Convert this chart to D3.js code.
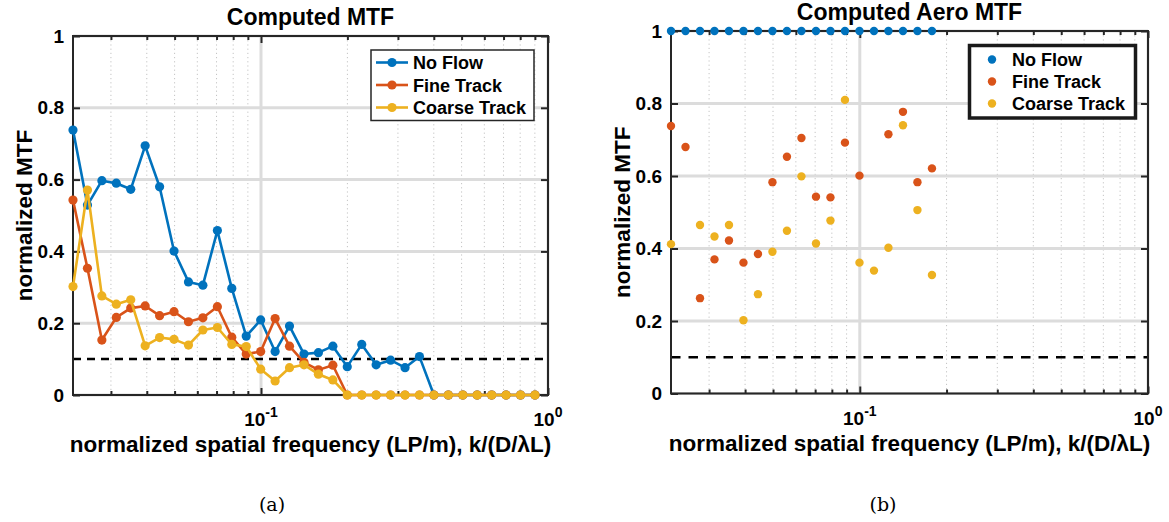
<!DOCTYPE html>
<html><head><meta charset="utf-8">
<script src="https://cdn.jsdelivr.net/npm/d3@7"></script>
<style>
html,body{margin:0;padding:0;background:#fff;}
svg text{font-family:"Liberation Sans",Arial,sans-serif;font-weight:bold;fill:#000;}
</style></head>
<body>
<svg id="fig" width="1169" height="522"></svg>
<script>
// ---- data ----
const freq = [0.02213,0.02485,0.02790,0.03132,0.03517,0.03948,0.04433,0.04977,0.05588,0.06274,
  0.07047,0.07911,0.08883,0.09975,0.1120,0.1257,0.1412,0.1585,0.1780,0.1998,
  0.2244,0.2519,0.2829,0.3176,0.3566,0.4004,0.4496,0.5048,0.5667,0.6363,
  0.7145,0.8022,0.9008];
const seriesNames = ["No Flow","Fine Track","Coarse Track"];
const seriesColors = ["#0072BD","#D95319","#EDB120"];
// panel (a): computed MTF
const mtfNoFlow = [0.738,0.529,0.597,0.590,0.573,0.694,0.580,0.401,0.315,0.306,
  0.458,0.297,0.164,0.209,0.121,0.192,0.114,0.118,0.136,0.079,
  0.141,0.084,0.097,0.076,0.107,0,0,0,0,0,0,0,0];
const mtfFine = [0.543,0.353,0.153,0.216,0.242,0.248,0.221,0.232,0.204,0.215,
  0.246,0.161,0.114,0.121,0.213,0.136,0.091,0.070,0.083,0,
  0,0,0,0,0,0,0,0,0,0,0,0,0];
const mtfCoarse = [0.302,0.571,0.276,0.253,0.265,0.137,0.160,0.155,0.139,0.181,
  0.188,0.141,0.135,0.072,0.039,0.076,0.084,0.058,0.042,0,
  0,0,0,0,0,0,0,0,0,0,0,0,0];
// panel (b): computed aero MTF (first 19 frequencies)
const aeroNoFlow = [1,1,1,1,1,1,1,1,1,1,1,1,1,1,1,1,1,1,1];
const aeroFine = [0.738,0.680,0.263,0.370,0.422,0.361,0.385,0.583,0.653,0.705,
  0.543,0.541,0.692,0.601,null,0.715,0.777,0.583,0.621];
const aeroCoarse = [0.412,null,0.465,0.433,0.465,0.202,0.274,0.391,0.449,0.599,
  0.414,0.477,0.810,0.361,0.339,0.402,0.740,0.506,0.327];
const yTicks = [0,0.2,0.4,0.6,0.8,1];
const yTickLabels = ["0","0.2","0.4","0.6","0.8","1"];
const xMajor = [0.1,1];
const xMajorExp = ["-1","0"];
const xMinor = [0.03,0.04,0.05,0.06,0.07,0.08,0.09,0.2,0.3,0.4,0.5,0.6,0.7,0.8,0.9];
const threshold = 0.1;
const titles = ["Computed MTF","Computed Aero MTF"];
const xLabelText = "normalized spatial frequency (LP/m), k/(D/\u03BBL)";
const yLabelText = "normalized MTF";
const captions = ["(a)","(b)"];

const svg = d3.select("#fig");
const axisColor = "#262626";

function panel(opt){
  const g = svg.append("g");
  const x = d3.scaleLog().domain([freq[0],1]).range([opt.left,opt.right]);
  const y = d3.scaleLinear().domain([0,1]).range([opt.bottom,opt.top]);
  // grids
  g.selectAll(".mg").data(xMinor).join("line")
    .attr("x1",d=>x(d)).attr("x2",d=>x(d)).attr("y1",opt.top).attr("y2",opt.bottom)
    .attr("stroke","#c4c4c4").attr("stroke-width",1).attr("stroke-dasharray","1.2,3");
  g.selectAll(".gy").data(yTicks).join("line")
    .attr("x1",opt.left).attr("x2",opt.right).attr("y1",d=>y(d)).attr("y2",d=>y(d))
    .attr("stroke","#dcdcdc").attr("stroke-width",3);
  g.selectAll(".gx").data(xMajor).join("line")
    .attr("x1",d=>x(d)).attr("x2",d=>x(d)).attr("y1",opt.top).attr("y2",opt.bottom)
    .attr("stroke","#dcdcdc").attr("stroke-width",3);
  // threshold dashed line
  g.append("line").attr("x1",opt.left).attr("x2",opt.right)
    .attr("y1",y(threshold)).attr("y2",y(threshold))
    .attr("stroke","#000").attr("stroke-width",2.5).attr("stroke-dasharray",opt.dash);
  // axes using d3 axis generators (inward ticks)
  const yl = d3.axisLeft(y).tickValues(yTicks).tickSize(-7).tickFormat((d,i)=>yTickLabels[i]).tickPadding(9);
  const yr = d3.axisRight(y).tickValues(yTicks).tickSize(-7).tickFormat("");
  const xb = d3.axisBottom(x).tickValues(xMajor).tickSize(-7).tickFormat("");
  const xt = d3.axisTop(x).tickValues(xMajor).tickSize(-7).tickFormat("");
  const xbm = d3.axisBottom(x).tickValues(xMinor).tickSize(-4).tickFormat("");
  const xtm = d3.axisTop(x).tickValues(xMinor).tickSize(-4).tickFormat("");
  const axes = [[yl,`translate(${opt.left},0)`],[yr,`translate(${opt.right},0)`],
    [xb,`translate(0,${opt.bottom})`],[xt,`translate(0,${opt.top})`],
    [xbm,`translate(0,${opt.bottom})`],[xtm,`translate(0,${opt.top})`]];
  axes.forEach(([a,t])=>{
    const ag = g.append("g").attr("transform",t).call(a);
    ag.select(".domain").remove();
    ag.selectAll("line").attr("stroke",axisColor).attr("stroke-width",2);
    ag.selectAll("text").style("font-size","19px").attr("fill","#000")
      .style("font-family","'Liberation Sans',Arial,sans-serif").style("font-weight","bold");
  });
  // x tick labels with superscripts
  xMajor.forEach((v,i)=>{
    const t = g.append("text").attr("x",x(v)).attr("y",opt.bottom+31).attr("text-anchor","middle");
    t.append("tspan").style("font-size","19px").text("10");
    t.append("tspan").style("font-size","14px").attr("dy",-9).text(xMajorExp[i]);
  });
  // box
  g.append("rect").attr("x",opt.left).attr("y",opt.top)
    .attr("width",opt.right-opt.left).attr("height",opt.bottom-opt.top)
    .attr("fill","none").attr("stroke",axisColor).attr("stroke-width",2);
  // title and labels
  g.append("text").attr("x",(opt.left+opt.right)/2).attr("y",opt.top-11)
    .attr("text-anchor","middle").style("font-size","23px").text(opt.title);
  g.append("text").attr("x",(opt.left+opt.right)/2).attr("y",opt.bottom+57)
    .attr("text-anchor","middle").style("font-size","22.5px").text(xLabelText);
  g.append("text").attr("transform",`translate(${opt.ylabX},${(opt.top+opt.bottom)/2}) rotate(-90)`)
    .attr("text-anchor","middle").style("font-size","22.5px").text(yLabelText);
  g.append("text").attr("x",opt.capX).attr("y",511).attr("text-anchor","middle")
    .style("font-family","'DejaVu Serif','Liberation Serif',serif").style("font-weight","normal")
    .style("font-size","19px").text(opt.caption);
  return {g,x,y};
}

// ---- panel (a) ----
const A = panel({left:73,right:548,top:36,bottom:395,title:titles[0],ylabX:32,capX:272,caption:captions[0],dash:"8,6"});
const aSeries = [mtfNoFlow,mtfFine,mtfCoarse];
aSeries.forEach((vals,si)=>{
  const pts = freq.map((f,i)=>[f,vals[i]]);
  A.g.append("path").datum(pts)
    .attr("d",d3.line().x(d=>A.x(d[0])).y(d=>A.y(d[1])))
    .attr("fill","none").attr("stroke",seriesColors[si]).attr("stroke-width",2.6).attr("stroke-linejoin","round");
  A.g.selectAll(null).data(pts).join("circle")
    .attr("cx",d=>A.x(d[0])).attr("cy",d=>A.y(d[1])).attr("r",4.6).attr("fill",seriesColors[si]);
});
// legend (a)
{
  const lg = A.g.append("g");
  lg.append("rect").attr("x",371).attr("y",50).attr("width",163).attr("height",70.5)
    .attr("fill","#fff").attr("stroke",axisColor).attr("stroke-width",1.5);
  seriesNames.forEach((n,i)=>{
    const yy = 62.5 + i*22.5;
    lg.append("line").attr("x1",376).attr("x2",408).attr("y1",yy).attr("y2",yy)
      .attr("stroke",seriesColors[i]).attr("stroke-width",2.6);
    lg.append("circle").attr("cx",392).attr("cy",yy).attr("r",4.6).attr("fill",seriesColors[i]);
    lg.append("text").attr("x",413).attr("y",yy+6.5).style("font-size","18px").text(n);
  });
}

// ---- panel (b) ----
const B = panel({left:671,right:1148,top:31,bottom:393.5,title:titles[1],ylabX:630,capX:883,caption:captions[1],dash:"9.5,8"});
const bSeries = [aeroNoFlow,aeroFine,aeroCoarse];
bSeries.forEach((vals,si)=>{
  const pts = vals.map((v,i)=>[freq[i],v]).filter(d=>d[1]!==null);
  B.g.selectAll(null).data(pts).join("circle")
    .attr("cx",d=>B.x(d[0])).attr("cy",d=>B.y(d[1])).attr("r",4.2).attr("fill",seriesColors[si]);
});
// legend (b)
{
  const lg = B.g.append("g");
  lg.append("rect").attr("x",969.5).attr("y",45.5).attr("width",166).attr("height",72.5)
    .attr("fill","#fff").attr("stroke","#1a1a1a").attr("stroke-width",3.5);
  seriesNames.forEach((n,i)=>{
    const yy = 59.5 + i*22;
    lg.append("circle").attr("cx",992).attr("cy",yy).attr("r",4.2).attr("fill",seriesColors[i]);
    lg.append("text").attr("x",1012).attr("y",yy+6.5).style("font-size","18px").text(n);
  });
}
</script>
</body></html>
